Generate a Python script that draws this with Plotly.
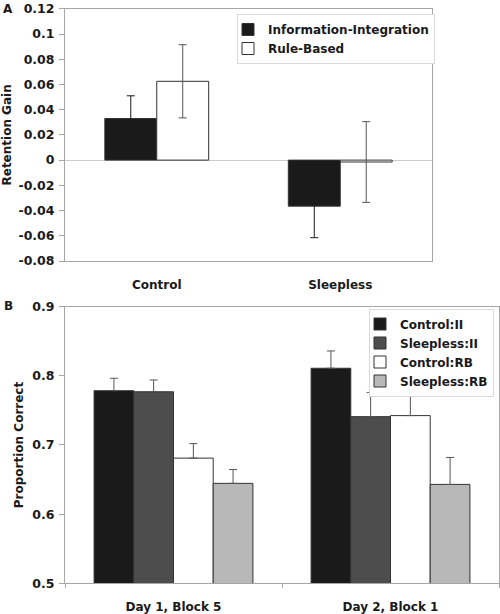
import plotly.graph_objects as go

# ---------------- data ----------------
groups_a = ["Control", "Sleepless"]
ii_gain = [0.033, -0.0365]
ii_gain_err = [0.018, 0.025]
rb_gain = [0.0625, -0.0015]
rb_gain_err = [0.029, 0.032]
ytick_vals_a = [-0.08, -0.06, -0.04, -0.02, 0, 0.02, 0.04, 0.06, 0.08, 0.1, 0.12]
ytick_text_a = ["-0.08", "-0.06", "-0.04", "-0.02", "0", "0.02", "0.04", "0.06", "0.08", "0.1", "0.12"]

blocks_b = ["Day 1, Block 5", "Day 2, Block 1"]
control_ii = [0.7785, 0.811]
control_ii_err = [0.018, 0.025]
sleepless_ii = [0.777, 0.741]
sleepless_ii_err = [0.017, 0.035]
control_rb = [0.681, 0.7425]
control_rb_err = [0.021, 0.029]
sleepless_rb = [0.6445, 0.643]
sleepless_rb_err = [0.020, 0.039]
ytick_vals_b = [0.5, 0.6, 0.7, 0.8, 0.9]
ytick_text_b = ["0.5", "0.6", "0.7", "0.8", "0.9"]

# ---------------- style ----------------
FONT = "DejaVu Sans, Arial, sans-serif"
bold = dict(family=FONT, size=12, color="#1a1a1a", weight="bold")
tickbold = dict(family=FONT, size=12.5, color="#1a1a1a", weight="bold")
AXC = "#a6a6a6"
OUT = "#333333"

fig = go.Figure()

# Panel A
wa = 0.283
specs_a = [
    ("Information-Integration", ii_gain, ii_gain_err, "#1a1a1a", "#1a1a1a", -wa),
    ("Rule-Based", rb_gain, rb_gain_err, "#ffffff", "#555555", 0.0),
]
for name, vals, errs, col, ecol, off in specs_a:
    fig.add_trace(go.Bar(
        x=groups_a, y=vals, name=name, width=wa, offset=off,
        marker=dict(color=col, line=dict(color=OUT, width=1)),
        error_y=dict(type="data", array=errs, visible=True, color=ecol, thickness=1, width=4),
        xaxis="x", yaxis="y", legend="legend",
    ))

# Panel B (error bars drawn upward only)
wb = 0.183
specs_b = [
    ("Control:II", control_ii, control_ii_err, "#1a1a1a", -2 * wb),
    ("Sleepless:II", sleepless_ii, sleepless_ii_err, "#4d4d4d", -wb),
    ("Control:RB", control_rb, control_rb_err, "#ffffff", 0.0),
    ("Sleepless:RB", sleepless_rb, sleepless_rb_err, "#b8b8b8", wb),
]
for name, vals, errs, col, off in specs_b:
    fig.add_trace(go.Bar(
        x=blocks_b, y=vals, name=name, width=wb, offset=off,
        marker=dict(color=col, line=dict(color=OUT, width=1)),
        error_y=dict(type="data", symmetric=False, array=errs, arrayminus=[0] * len(errs),
                     visible=True, color="#555555", thickness=1, width=4),
        xaxis="x2", yaxis="y2", legend="legend2",
    ))

fig.update_layout(
    width=500, height=614,
    margin=dict(l=0, r=0, t=0, b=0, autoexpand=False),
    paper_bgcolor="white", plot_bgcolor="white",
    barmode="overlay",
    font=bold,
    showlegend=True,
    hovermode=False,
    xaxis=dict(domain=[0.13, 0.864], anchor="y", automargin=False, showline=True, mirror=True,
               linecolor=AXC, linewidth=1, ticks="", tickfont=bold,
               ticklabelstandoff=13, showgrid=False, zeroline=False),
    yaxis=dict(domain=[0.5749, 0.9857], anchor="x", range=[-0.08, 0.12], automargin=False,
               tickmode="array", tickvals=ytick_vals_a, ticktext=ytick_text_a,
               showline=True, mirror=True, linecolor=AXC, linewidth=1,
               ticks="outside", ticklen=5, tickcolor=AXC, tickfont=tickbold,
               ticklabelstandoff=2, showgrid=False,
               zeroline=True, zerolinecolor="#cccccc", zerolinewidth=1,
               title=dict(text="Retention Gain", font=bold, standoff=6)),
    xaxis2=dict(domain=[0.13, 0.998], anchor="y2", automargin=False, showline=True, mirror=True,
                linecolor=AXC, linewidth=1, ticks="outside", ticklen=4,
                tickcolor=AXC, tickson="boundaries", tickfont=bold,
                ticklabelstandoff=12, showgrid=False, zeroline=False),
    yaxis2=dict(domain=[0.05, 0.5005], anchor="x2", range=[0.5, 0.9], automargin=False,
                tickmode="array", tickvals=ytick_vals_b, ticktext=ytick_text_b,
                showline=True, mirror=True, linecolor=AXC, linewidth=1,
                ticks="outside", ticklen=5, tickcolor=AXC, tickfont=tickbold,
                ticklabelstandoff=2, showgrid=False, zeroline=False,
                title=dict(text="Proportion Correct", font=bold, standoff=6)),
    legend=dict(x=0.474, y=1 - 14 / 614, xanchor="left", yanchor="top",
                bgcolor="white", bordercolor="#d9d9d9", borderwidth=1,
                font=bold, indentation=-10),
    legend2=dict(x=0.988, y=1 - 308.5 / 614, xanchor="right", yanchor="top",
                 bgcolor="white", bordercolor="#d9d9d9", borderwidth=1,
                 font=bold, indentation=-10),
    annotations=[
        dict(text="A", x=8 / 500, y=1 - 9 / 614, xref="paper", yref="paper",
             showarrow=False, font=bold, xanchor="center", yanchor="middle"),
        dict(text="B", x=8 / 500, y=1 - 305.7 / 614, xref="paper", yref="paper",
             showarrow=False, font=bold, xanchor="center", yanchor="middle"),
    ],
)

# remove the browser's default page margin so the figure fills the window
fig.write_html("out.html", config={"displayModeBar": False},
               post_script="document.body.style.margin='0';")
